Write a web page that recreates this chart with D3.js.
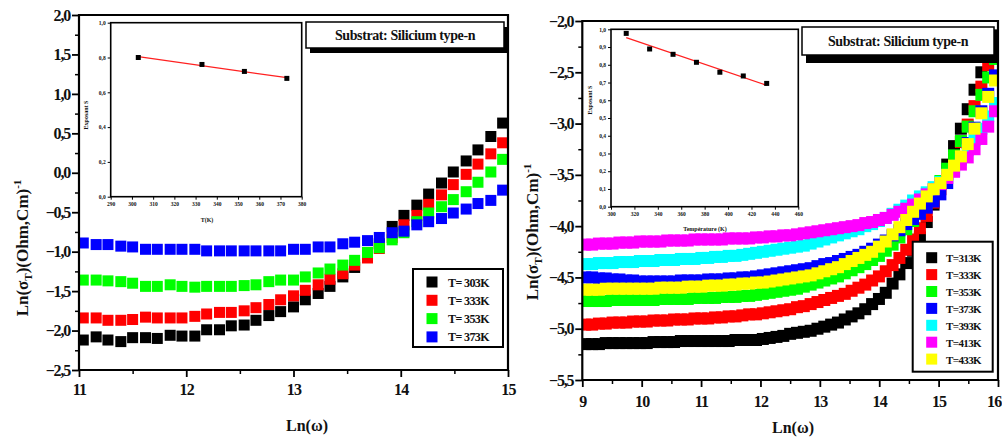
<!DOCTYPE html>
<html><head><meta charset="utf-8">
<script src="https://cdn.jsdelivr.net/npm/d3@7"></script>
<style>
body{margin:0;background:#fff}
svg text{font-family:"Liberation Serif","Times New Roman",serif;font-weight:bold;fill:#111}
</style>
</head><body>
<svg id="c" width="1002" height="438"></svg>
<script>
// ---------------- DATA ----------------
// Left panel: Ln(omega) grid and Ln(sigma_T) for four temperatures
const leftLnW = [11.04,11.16,11.27,11.39,11.50,11.62,11.73,11.85,11.96,12.08,12.19,12.31,12.42,12.54,12.65,12.77,12.88,13.00,13.11,13.23,13.34,13.46,13.57,13.69,13.80,13.92,14.03,14.15,14.26,14.38,14.49,14.61,14.72,14.84,14.95];
const left303 = [-2.12,-2.08,-2.12,-2.14,-2.09,-2.09,-2.10,-2.06,-2.07,-2.07,-1.99,-1.99,-1.94,-1.93,-1.87,-1.81,-1.76,-1.70,-1.61,-1.53,-1.44,-1.32,-1.20,-1.05,-0.90,-0.68,-0.54,-0.41,-0.27,-0.13,0.01,0.15,0.29,0.46,0.63];
const left333 = [-1.84,-1.84,-1.87,-1.87,-1.86,-1.83,-1.84,-1.84,-1.84,-1.82,-1.79,-1.77,-1.77,-1.75,-1.71,-1.67,-1.61,-1.56,-1.49,-1.42,-1.35,-1.28,-1.17,-1.08,-0.96,-0.82,-0.66,-0.54,-0.40,-0.28,-0.15,-0.02,0.11,0.24,0.38];
const left353 = [-1.36,-1.36,-1.37,-1.38,-1.40,-1.44,-1.44,-1.42,-1.44,-1.45,-1.44,-1.44,-1.44,-1.43,-1.42,-1.38,-1.36,-1.36,-1.32,-1.27,-1.22,-1.17,-1.11,-1.01,-0.95,-0.85,-0.76,-0.62,-0.51,-0.43,-0.34,-0.24,-0.12,0.01,0.17];
const left373 = [-0.89,-0.91,-0.91,-0.93,-0.94,-0.97,-0.97,-0.97,-0.97,-0.97,-0.99,-0.99,-0.99,-0.99,-0.99,-0.99,-0.99,-0.97,-0.97,-0.94,-0.94,-0.90,-0.88,-0.86,-0.82,-0.76,-0.74,-0.66,-0.62,-0.58,-0.51,-0.46,-0.39,-0.35,-0.22];
const leftLabels = ["T= 303K","T= 333K","T= 353K","T= 373K"];
const leftColors = ["#000000","#ff0000","#00ff00","#0000ff"];
const leftXTicks = [11,12,13,14,15];
const leftYTicks = [-2.5,-2,-1.5,-1,-0.5,0,0.5,1,1.5,2];
// Left inset: exponent s vs T
const leftInsetT = [303,333,353,373];
const leftInsetS = [0.80,0.76,0.72,0.68];
const leftInsetXTicks = [290,300,310,320,330,340,350,360,370,380];
const leftInsetYTicks = [0,0.2,0.4,0.6,0.8,1.0];

// Right panel
const rightLnW = [9.05,9.165,9.28,9.395,9.51,9.625,9.74,9.855,9.97,10.085,10.2,10.315,10.43,10.545,10.66,10.775,10.89,11.005,11.12,11.235,11.35,11.465,11.58,11.695,11.81,11.925,12.04,12.155,12.27,12.385,12.5,12.615,12.73,12.845,12.96,13.075,13.19,13.305,13.42,13.535,13.65,13.765,13.88,13.995,14.11,14.225,14.34,14.455,14.57,14.685,14.8,14.915,15.03,15.145,15.26,15.375,15.49,15.605,15.72,15.835,15.95];
const right313 = [-5.15,-5.15,-5.15,-5.14,-5.14,-5.14,-5.14,-5.14,-5.14,-5.14,-5.13,-5.13,-5.13,-5.13,-5.12,-5.12,-5.12,-5.12,-5.12,-5.12,-5.12,-5.12,-5.11,-5.11,-5.11,-5.11,-5.10,-5.09,-5.08,-5.07,-5.05,-5.04,-5.03,-5.02,-5.00,-4.98,-4.96,-4.94,-4.91,-4.88,-4.85,-4.81,-4.76,-4.71,-4.65,-4.56,-4.47,-4.36,-4.24,-4.11,-3.96,-3.79,-3.58,-3.40,-3.22,-3.05,-2.86,-2.67,-2.50,-2.33,-2.14];
const right333 = [-4.96,-4.96,-4.95,-4.95,-4.94,-4.94,-4.94,-4.93,-4.93,-4.93,-4.92,-4.92,-4.92,-4.91,-4.91,-4.91,-4.90,-4.90,-4.90,-4.89,-4.89,-4.88,-4.88,-4.87,-4.86,-4.86,-4.85,-4.84,-4.83,-4.82,-4.81,-4.79,-4.78,-4.76,-4.74,-4.72,-4.70,-4.68,-4.66,-4.63,-4.60,-4.57,-4.53,-4.49,-4.44,-4.38,-4.31,-4.23,-4.13,-4.02,-3.90,-3.77,-3.64,-3.49,-3.34,-3.18,-3.01,-2.83,-2.64,-2.43,-2.21];
const right353 = [-4.73,-4.73,-4.73,-4.73,-4.72,-4.72,-4.72,-4.72,-4.72,-4.72,-4.72,-4.71,-4.71,-4.71,-4.71,-4.71,-4.70,-4.70,-4.70,-4.70,-4.69,-4.69,-4.69,-4.68,-4.68,-4.67,-4.66,-4.65,-4.64,-4.63,-4.62,-4.61,-4.59,-4.57,-4.55,-4.53,-4.51,-4.49,-4.46,-4.43,-4.40,-4.37,-4.33,-4.29,-4.24,-4.18,-4.11,-4.03,-3.95,-3.86,-3.77,-3.67,-3.56,-3.44,-3.31,-3.17,-3.03,-2.88,-2.72,-2.55,-2.37];
const right373 = [-4.50,-4.50,-4.51,-4.51,-4.52,-4.52,-4.53,-4.53,-4.54,-4.54,-4.54,-4.54,-4.54,-4.54,-4.53,-4.53,-4.53,-4.53,-4.52,-4.52,-4.52,-4.51,-4.51,-4.50,-4.50,-4.49,-4.48,-4.47,-4.46,-4.45,-4.44,-4.43,-4.42,-4.41,-4.39,-4.37,-4.36,-4.34,-4.32,-4.30,-4.28,-4.25,-4.22,-4.18,-4.14,-4.09,-4.04,-3.98,-3.93,-3.88,-3.82,-3.76,-3.69,-3.58,-3.46,-3.33,-3.19,-3.04,-2.88,-2.71,-2.53];
const right393 = [-4.37,-4.37,-4.36,-4.36,-4.36,-4.35,-4.35,-4.35,-4.34,-4.34,-4.34,-4.33,-4.33,-4.33,-4.32,-4.32,-4.32,-4.31,-4.31,-4.30,-4.30,-4.29,-4.29,-4.28,-4.27,-4.26,-4.25,-4.24,-4.23,-4.22,-4.21,-4.20,-4.19,-4.17,-4.15,-4.13,-4.11,-4.09,-4.07,-4.05,-4.03,-4.00,-3.98,-3.95,-3.92,-3.88,-3.84,-3.80,-3.75,-3.71,-3.67,-3.62,-3.57,-3.50,-3.43,-3.35,-3.26,-3.16,-3.05,-2.93,-2.80];
const right413 = [-4.18,-4.18,-4.17,-4.17,-4.17,-4.16,-4.16,-4.16,-4.15,-4.15,-4.15,-4.15,-4.14,-4.14,-4.14,-4.14,-4.13,-4.13,-4.13,-4.13,-4.13,-4.12,-4.12,-4.12,-4.12,-4.11,-4.11,-4.10,-4.10,-4.09,-4.09,-4.08,-4.07,-4.06,-4.05,-4.04,-4.03,-4.02,-4.01,-4.00,-3.99,-3.97,-3.96,-3.94,-3.92,-3.89,-3.86,-3.83,-3.79,-3.74,-3.69,-3.64,-3.59,-3.53,-3.47,-3.40,-3.33,-3.25,-3.15,-3.03,-2.88];
const right433 = [-4.62,-4.62,-4.62,-4.61,-4.61,-4.61,-4.61,-4.61,-4.61,-4.61,-4.61,-4.60,-4.60,-4.60,-4.60,-4.59,-4.59,-4.59,-4.58,-4.58,-4.58,-4.57,-4.57,-4.56,-4.56,-4.55,-4.55,-4.54,-4.53,-4.52,-4.51,-4.50,-4.49,-4.48,-4.46,-4.44,-4.42,-4.40,-4.37,-4.34,-4.31,-4.28,-4.25,-4.20,-4.15,-4.08,-4.01,-3.94,-3.86,-3.78,-3.71,-3.64,-3.58,-3.50,-3.41,-3.32,-3.20,-3.05,-2.90,-2.74,-2.58];
const rightLabels = ["T=313K","T=333K","T=353K","T=373K","T=393K","T=413K","T=433K"];
const rightColors = ["#000000","#ff0000","#00ff00","#0000ff","#00ffff","#ff00ff","#ffff00"];
const rightXTicks = [9,10,11,12,13,14,15,16];
const rightYTicks = [-5.5,-5,-4.5,-4,-3.5,-3,-2.5,-2];
// Right inset
const rightInsetT = [313,333,353,373,393,413,433];
const rightInsetS = [0.977,0.889,0.859,0.814,0.758,0.737,0.695];
const rightInsetXTicks = [300,320,340,360,380,400,420,440,460];
const rightInsetYTicks = [0,0.1,0.2,0.3,0.4,0.5,0.6,0.7,0.8,0.9,1.0];

const annotation = "Substrat: Silicium type-n";
const xTitle = "Ln(ω)";

// ---------------- DRAWING ----------------
const svg = d3.select("#c");
const comma = d => d3.format(".1f")(d).replace(".", ",");

function styleAxis(g, w) {
  g.select(".domain").remove();
  g.selectAll(".tick line").attr("stroke", "#000").attr("stroke-width", w);
}

function panel(o) {
  const x = d3.scaleLinear().domain(o.xd).range(o.xr);
  const y = d3.scaleLinear().domain(o.yd).range(o.yr);
  const g = svg.append("g");
  const id = "clip" + o.name;
  svg.append("clipPath").attr("id", id).append("rect")
    .attr("x", o.xr[0]).attr("y", o.yr[1]).attr("width", o.xr[1] - o.xr[0]).attr("height", o.yr[0] - o.yr[1]);

  // minor ticks
  const xMinor = d3.range(o.xd[0], o.xd[1] + 1e-9, 0.5).filter(v => Math.abs(v - Math.round(v)) > 1e-6);
  const yMinor = d3.range(o.yd[0], o.yd[1] + 1e-9, 0.25).filter(v => Math.abs(v * 2 - Math.round(v * 2)) > 1e-6);
  g.append("g").attr("transform", `translate(0,${o.yr[0]})`)
    .call(d3.axisBottom(x).tickValues(xMinor).tickSize(4).tickFormat(""))
    .call(a => styleAxis(a, 1.5));
  g.append("g").attr("transform", `translate(${o.xr[0]},0)`)
    .call(d3.axisLeft(y).tickValues(yMinor).tickSize(4).tickFormat(""))
    .call(a => styleAxis(a, 1.5));
  // major ticks
  const xa = g.append("g").attr("transform", `translate(0,${o.yr[0]})`)
    .call(d3.axisBottom(x).tickValues(o.xTicks).tickSize(7).tickPadding(o.xPad).tickFormat(d3.format("d")))
    .call(a => styleAxis(a, 1.8));
  xa.selectAll("text").attr("font-size", 16).attr("fill", "#111").attr("letter-spacing", -0.8);
  if (o.lastEnd) {
    xa.selectAll(".tick").filter(d => d === o.xTicks[o.xTicks.length - 1]).select("text")
      .attr("text-anchor", "end").attr("x", 1002 - o.xr[1] - 1);
  }
  const ya = g.append("g").attr("transform", `translate(${o.xr[0]},0)`)
    .call(d3.axisLeft(y).tickValues(o.yTicks).tickSize(7).tickPadding(2).tickFormat(comma))
    .call(a => styleAxis(a, 1.8));
  ya.selectAll("text").attr("font-size", 16).attr("fill", "#111").attr("letter-spacing", -1.2);

  // data
  const dg = g.append("g").attr("clip-path", `url(#${id})`);
  const s = o.marker;
  o.series.forEach((vals, i) => {
    dg.append("g").selectAll("rect").data(vals.map((v, j) => [o.lnW[j], v])).join("rect")
      .attr("x", d => x(d[0]) - s / 2).attr("y", d => y(d[1]) - s / 2)
      .attr("width", s).attr("height", s).attr("fill", o.colors[i]);
  });

  // frame
  g.append("path").attr("fill", "none").attr("stroke", "#000").attr("stroke-width", 2.2)
    .attr("d", `M${o.xr[0]},${o.yr[0]}V${o.yr[1]}H${o.xr[1]}V${o.yr[0]}Z`);

  // titles
  g.append("text").attr("x", o.xTitle[0]).attr("y", o.xTitle[1]).attr("text-anchor", "middle")
    .attr("font-size", 16).text(xTitle);
  const yt = g.append("text").attr("transform", `translate(${o.yTitle[0]},${o.yTitle[1]}) rotate(-90)`)
    .attr("text-anchor", "middle").attr("font-size", 17);
  yt.append("tspan").text("Ln(σ");
  yt.append("tspan").attr("dy", 4).attr("font-size", 11).text("T");
  yt.append("tspan").attr("dy", -4).text(")(Ohm,Cm)");
  yt.append("tspan").attr("dy", -7).attr("font-size", 11).text("-1");

  // annotation box with shadow
  const a = o.ann;
  g.append("rect").attr("x", a[0] + a[4]).attr("y", a[1] + a[5]).attr("width", a[2]).attr("height", a[3]).attr("fill", "#000");
  g.append("rect").attr("x", a[0]).attr("y", a[1]).attr("width", a[2]).attr("height", a[3])
    .attr("fill", "#fff").attr("stroke", "#000").attr("stroke-width", 1.5);
  g.append("text").attr("x", a[0] + a[2] / 2).attr("y", a[1] + a[3] / 2 + 5).attr("text-anchor", "middle")
    .attr("font-size", 14).attr("letter-spacing", -0.4).text(annotation);

  // legend
  const L = o.leg;
  g.append("rect").attr("x", L.x).attr("y", L.y).attr("width", L.w).attr("height", L.h)
    .attr("fill", "#fff").attr("stroke", "#000").attr("stroke-width", 2);
  o.labels.forEach((lab, i) => {
    const cy = L.row0 + i * L.dy;
    g.append("rect").attr("x", L.mx - 5.5).attr("y", cy - 5.5).attr("width", 11).attr("height", 11).attr("fill", o.colors[i]);
    g.append("text").attr("x", L.tx).attr("y", cy + 4.5).attr("font-size", L.fs).attr("fill", "#333")
      .attr("letter-spacing", -0.6).text(lab);
  });

  // inset
  const I = o.inset;
  const ix = d3.scaleLinear().domain(I.xd).range([I.x0, I.x1]);
  const iy = d3.scaleLinear().domain([0, 1]).range([I.y1, I.y0]);
  const ig = g.append("g");
  ig.append("rect").attr("x", I.x0).attr("y", I.y0).attr("width", I.x1 - I.x0).attr("height", I.y1 - I.y0).attr("fill", "#fff");
  const iax = ig.append("g").attr("transform", `translate(0,${I.y1})`)
    .call(d3.axisBottom(ix).tickValues(I.xTicks).tickSize(3).tickPadding(2).tickFormat(d3.format("d")))
    .call(a => styleAxis(a, 1));
  iax.selectAll("text").attr("font-size", 5.5).attr("fill", "#444");
  const iay = ig.append("g").attr("transform", `translate(${I.x0},0)`)
    .call(d3.axisLeft(iy).tickValues(I.yTicks).tickSize(3).tickPadding(2).tickFormat(comma))
    .call(a => styleAxis(a, 1));
  iay.selectAll("text").attr("font-size", 5.5).attr("fill", "#444");
  ig.append("rect").attr("x", I.x0).attr("y", I.y0).attr("width", I.x1 - I.x0).attr("height", I.y1 - I.y0)
    .attr("fill", "none").attr("stroke", "#000").attr("stroke-width", 1.6);
  // least-squares line through the inset points
  const n = I.T.length, mT = d3.mean(I.T), mS = d3.mean(I.S);
  const slope = d3.sum(I.T.map((t, i) => (t - mT) * (I.S[i] - mS))) / d3.sum(I.T.map(t => (t - mT) ** 2));
  const fit = t => mS + slope * (t - mT);
  ig.append("line").attr("x1", ix(I.T[0])).attr("y1", iy(fit(I.T[0])))
    .attr("x2", ix(I.T[n - 1])).attr("y2", iy(fit(I.T[n - 1])))
    .attr("stroke", "#ff2020").attr("stroke-width", 1.3);
  ig.selectAll("rect.pt").data(I.T.map((t, i) => [t, I.S[i]])).join("rect").attr("class", "pt")
    .attr("x", d => ix(d[0]) - 2.5).attr("y", d => iy(d[1]) - 2.5).attr("width", 5).attr("height", 5).attr("fill", "#000");
  ig.append("text").attr("x", I.xt[0]).attr("y", I.xt[1]).attr("text-anchor", "middle").attr("font-size", 6).attr("fill", "#444").text(I.xTitle);
  ig.append("text").attr("transform", `translate(${I.yt[0]},${I.yt[1]}) rotate(-90)`).attr("text-anchor", "middle")
    .attr("font-size", 6).attr("fill", "#444").text("Exposant S");
}

panel({
  name: "L", xd: [11, 15], xr: [79, 508], yd: [-2.5, 2], yr: [370, 15],
  xTicks: leftXTicks, yTicks: leftYTicks, xPad: 7, lnW: leftLnW,
  series: [left303, left333, left353, left373], colors: leftColors, labels: leftLabels, marker: 11,
  xTitle: [307, 431], yTitle: [28, 248],
  ann: [306, 22, 198, 26, 4, 5],
  leg: {x: 413, y: 269, w: 90, h: 78, mx: 432, row0: 282, dy: 18.3, tx: 448, fs: 12},
  inset: {x0: 110.7, x1: 301.7, y0: 22.7, y1: 196.7, xd: [290, 380], xTicks: leftInsetXTicks, yTicks: leftInsetYTicks,
    T: leftInsetT, S: leftInsetS, xTitle: "T(K)", xt: [207, 222], yt: [88, 115]}
});

panel({
  name: "R", xd: [9, 16], xr: [582.3, 998], yd: [-5.5, -2], yr: [380, 21],
  xTicks: rightXTicks, yTicks: rightYTicks, xPad: 9, lnW: rightLnW, lastEnd: true,
  series: [right313, right333, right353, right373, right393, right413, right433], colors: rightColors, labels: rightLabels, marker: 12,
  xTitle: [793, 433], yTitle: [538, 232],
  ann: [802, 27, 192, 28, 4, 8],
  leg: {x: 912.7, y: 241.7, w: 80, h: 130, mx: 931.7, row0: 257.7, dy: 16.9, tx: 946, fs: 11},
  inset: {x0: 611, x1: 798.3, y0: 29.3, y1: 206.7, xd: [300, 460], xTicks: rightInsetXTicks, yTicks: rightInsetYTicks,
    T: rightInsetT, S: rightInsetS, xTitle: "Température (K)", xt: [705, 231], yt: [592, 100]}
});
</script>
</body></html>
